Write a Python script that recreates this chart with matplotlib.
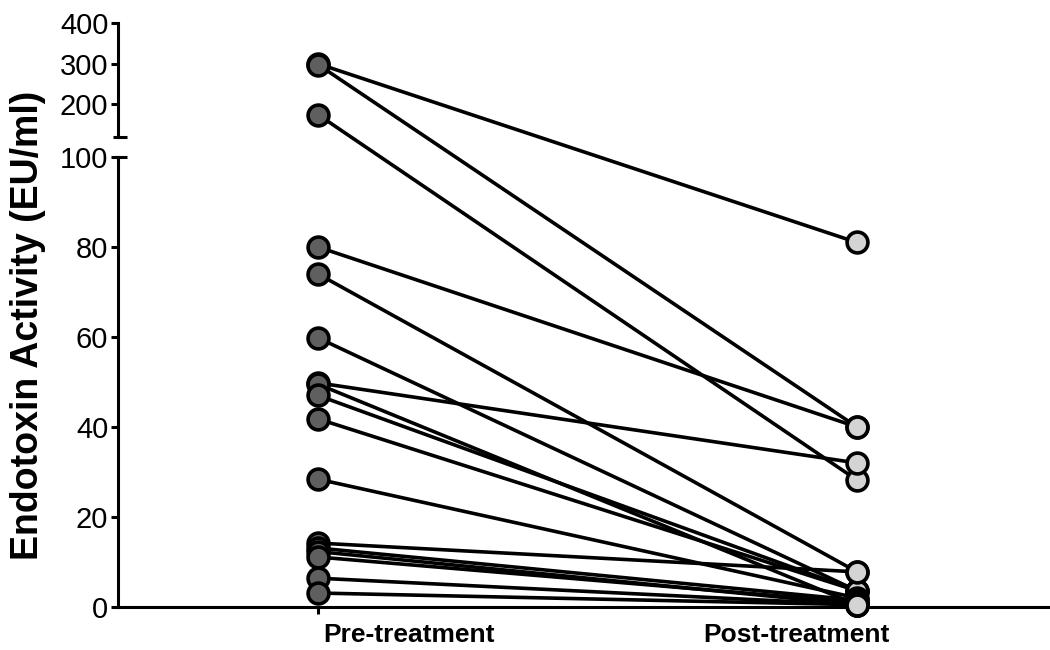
import matplotlib
matplotlib.use('Agg')
import matplotlib.pyplot as plt
from matplotlib.lines import Line2D

# paired endotoxin values (EU/ml), one entry per patient
pre_vals = [300, 298, 175, 80, 74, 59.8, 49.8, 49.5, 47, 41.8, 28.4,
            14.2, 13.1, 12.3, 11.1, 6.4, 3.1]
post_vals = [81, 40, 28.2, 40, 7.8, 3.6, 32, 0.5, 3.6, 3.6, 2.0,
             7.8, 1.5, 0.5, 1.0, 0.5, 0.5]
groups = ['Pre-treatment', 'Post-treatment']
low_ticks = [0, 20, 40, 60, 80, 100]
high_ticks = [200, 300, 400]
low_range = (0, 100)
high_range = (120, 400)

plt.rcParams['font.family'] = ['Liberation Sans', 'DejaVu Sans']

fig = plt.figure(figsize=(10.5, 6.5), dpi=100)
ax_lo = fig.add_axes([0.1124, 0.0662, 0.8876, 0.6923])
ax_hi = fig.add_axes([0.1124, 0.7892, 0.8876, 0.1754], sharex=ax_lo)

lw = 2.2
for ax in (ax_lo, ax_hi):
    ax.set_facecolor('none')
    for s in ('top', 'right'):
        ax.spines[s].set_visible(False)
    ax.spines['left'].set_linewidth(lw)
    ax.tick_params(axis='y', length=5, width=lw, labelsize=21, pad=2)
ax_hi.spines['bottom'].set_visible(False)
ax_hi.tick_params(axis='x', bottom=False, labelbottom=False)
ax_lo.spines['bottom'].set_linewidth(lw)
ax_lo.tick_params(axis='x', length=5, width=lw, labelbottom=False)

ax_lo.set_xlim(-0.371, 1.358)
ax_lo.set_xticks([0, 1])
ax_lo.set_ylim(*low_range)
ax_lo.set_yticks(low_ticks)
ax_hi.set_ylim(*high_range)
ax_hi.set_yticks(high_ticks)

# break caps on the y axis
cap = [-5 / 932, 9 / 932]
ax_lo.plot(cap, [100, 100], color='black', lw=lw, clip_on=False,
           transform=ax_lo.get_yaxis_transform(), solid_capstyle='butt')
ax_hi.plot(cap, [120, 120], color='black', lw=lw, clip_on=False,
           transform=ax_hi.get_yaxis_transform(), solid_capstyle='butt')


def pick(v):
    return ax_hi if v > low_range[1] else ax_lo


fig.canvas.draw()
to_fig = fig.transFigure.inverted()
for a, b in zip(pre_vals, post_vals):
    p0 = to_fig.transform(pick(a).transData.transform((0, a)))
    p1 = to_fig.transform(pick(b).transData.transform((1, b)))
    fig.add_artist(Line2D([p0[0], p1[0]], [p0[1], p1[1]], color='black',
                          lw=2.6, zorder=-1, transform=fig.transFigure))

mk = dict(marker='o', ms=15, mew=2.6, mec='black', ls='none',
          clip_on=False, zorder=4)
for v in pre_vals:
    pick(v).plot([0], [v], mfc='#5f5f5f', **mk)
for v in post_vals:
    pick(v).plot([1], [v], mfc='#d4d4d4', **mk)

label_x = [0.169, 0.887]
for x, name in zip(label_x, groups):
    ax_lo.text(x, -0.035, name, transform=ax_lo.get_xaxis_transform(),
               ha='center', va='top', fontsize=19, fontweight='bold',
               family=['Liberation Sans Narrow', 'Liberation Sans'])

fig.text(0.027, 0.5, 'Endotoxin Activity (EU/ml)', rotation=90,
         ha='center', va='center', fontsize=27, fontweight='bold')

fig.savefig('out.png', dpi=100)
